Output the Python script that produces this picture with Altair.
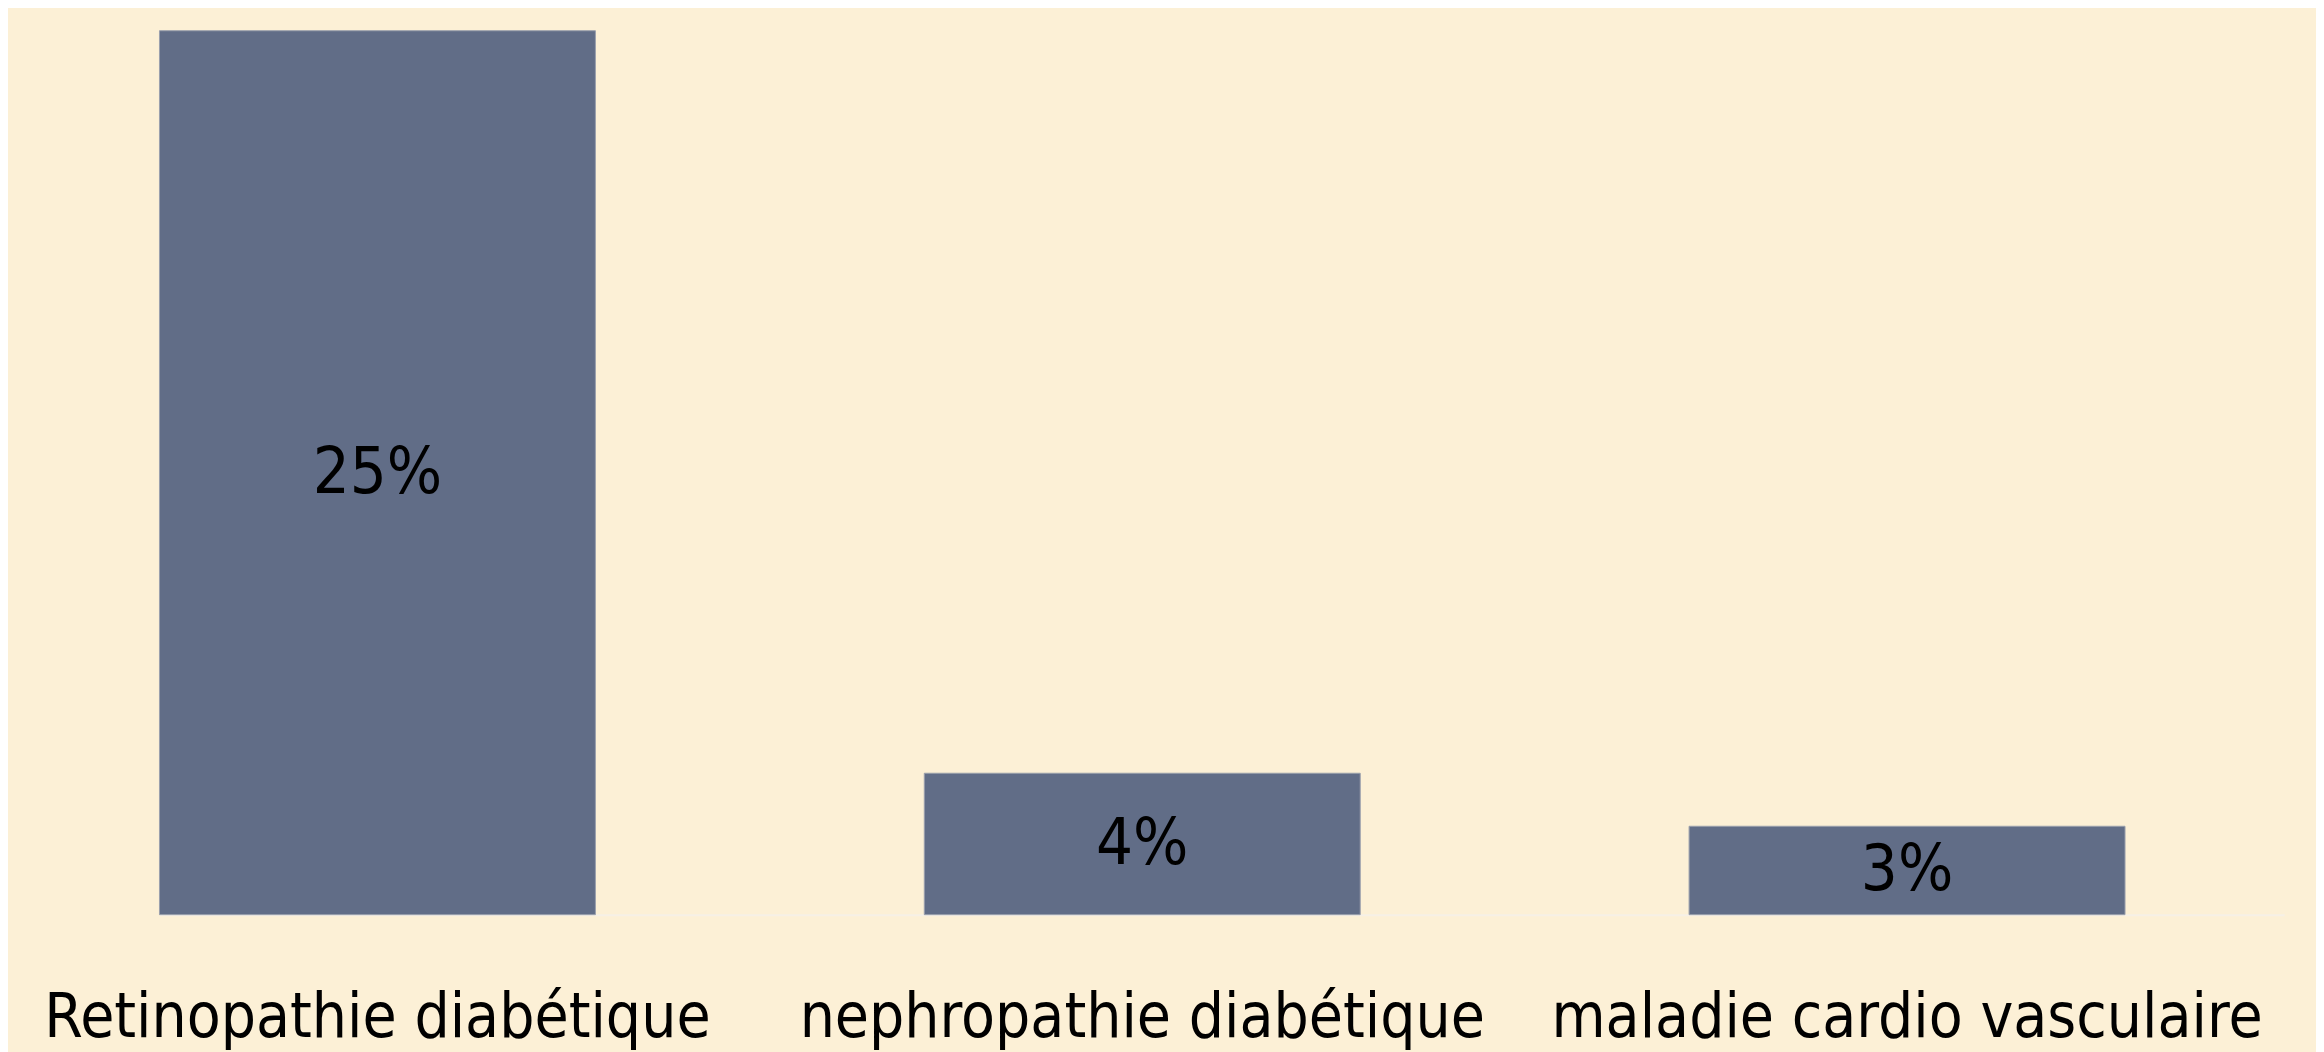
import altair as alt
import pandas as pd

categories = ["Retinopathie diabétique", "nephropathie diabétique", "maladie cardio vasculaire"]
values = [25, 4, 2.5]
labels = ["25%", "4%", "3%"]

df = pd.DataFrame({"cat": categories, "val": values, "lab": labels})

FONT = "DejaVu Sans Condensed, Tahoma, DejaVu Sans"

x = alt.X(
    "cat:N",
    sort=categories,
    title=None,
    scale=alt.Scale(paddingInner=0.43, paddingOuter=0.104, align=0),
    axis=alt.Axis(
        ticks=False,
        labelAngle=0,
        labelFont=FONT,
        labelFontSize=62,
        labelColor="#000000",
        labelPadding=122,
        labelBaseline="alphabetic",
        labelLimit=0,
        labelOverlap=False,
        domainColor="#f6f0e6",
        domainWidth=2,
        grid=False,
    ),
)
y = alt.Y("val:Q", scale=alt.Scale(domain=[0, 25], nice=False), axis=None)

bars = alt.Chart(df).mark_bar(color="#616d87", stroke="#9aa0ad", strokeWidth=1).encode(x=x, y=y)
text = alt.Chart(df).mark_text(
    font=FONT, fontSize=65, color="#000000", baseline="middle", align="center"
).encode(
    x=alt.X("cat:N", sort=categories),
    y=alt.Y("mid:Q", scale=alt.Scale(domain=[0, 25], nice=False), axis=None),
    text="lab:N",
).transform_calculate(mid="datum.val / 2")

chart = (
    alt.layer(bars, text)
    .properties(
        width=2132,
        height=887,
        padding={"left": 152, "top": 21, "right": 32, "bottom": 136},
        autosize=alt.AutoSizeParams(type="none"),
        background="#fcf0d6",
    )
    .configure_view(stroke=None)
)

chart.save("out.html", embed_options={"renderer": "svg", "actions": False})
